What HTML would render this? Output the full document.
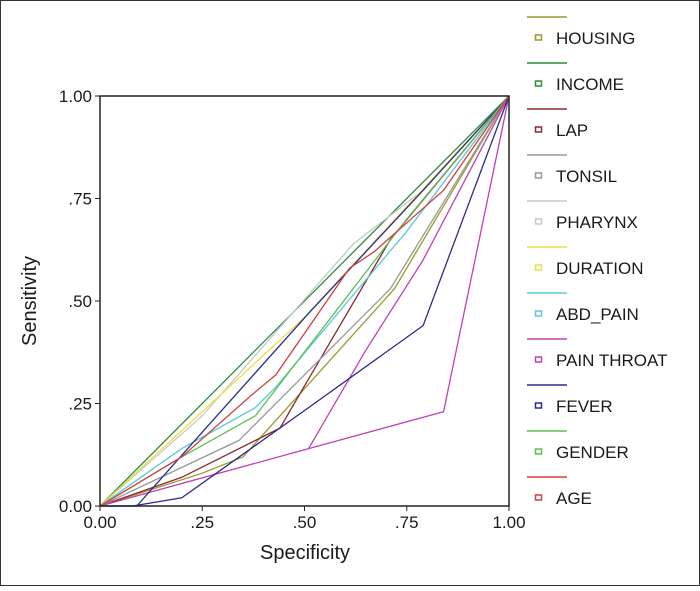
<!DOCTYPE html>
<html><head><meta charset="utf-8"><style>
html,body{margin:0;padding:0;background:#fff}
body{width:700px;height:586px;overflow:hidden;font-family:"Liberation Sans",Arial,sans-serif}
svg text{font-family:"Liberation Sans",Arial,sans-serif;fill:#1a1a1a}
</style></head><body>
<svg id="c" width="700" height="586">
<rect x="0.5" y="0.5" width="699" height="585" fill="#fff" stroke="#333"/>
<g id="plot"></g>
<g id="legend"></g>
</svg>
<script>
const names=["HOUSING","INCOME","LAP","TONSIL","PHARYNX","DURATION","ABD_PAIN","PAIN THROAT","FEVER","GENDER","AGE"];
const colors=["#9a9a2a","#2e8b3e","#8b2a2a","#999","#c8c8c8","#e8e040","#5cc8d8","#c040b0","#2a2a90","#5cc050","#d04040"];
const housingX=[0,0.25,0.35,0.72,1], housingY=[0,0.08,0.12,0.53,1];
const incomeX=[0,1], incomeY=[0,1];
const lapX=[0,0.2,0.44,0.51,0.71,1], lapY=[0,0.07,0.19,0.31,0.65,1];
const tonsilX=[0,0.34,0.71,1], tonsilY=[0,0.16,0.53,1];
const pharynxX=[0,0.25,0.62,0.79,1], pharynxY=[0,0.22,0.64,0.77,1];
const durationX=[0,0.5,0.75,1], durationY=[0,0.46,0.73,1];
const abdX=[0,0.2,0.38,0.43,0.75,1], abdY=[0,0.14,0.24,0.29,0.67,1];
const throatX=[0,0.51,0.84,1], throatY=[0,0.14,0.23,1];
const throat2X=[0.51,0.65,0.79,1], throat2Y=[0.14,0.38,0.6,1];
const feverX=[0,0.08,0.2,0.51,0.79,1], feverY=[0,0,0.02,0.24,0.44,1];
const fever2X=[0,0.09,0.25,0.51,0.79,1], fever2Y=[0,0,0.18,0.47,0.77,1];
const genderX=[0,0.2,0.38,0.75,1], genderY=[0,0.12,0.22,0.70,1];
const ageX=[0,0.2,0.37,0.43,0.61,0.67,0.84,1], ageY=[0,0.12,0.27,0.32,0.58,0.62,0.77,1];
const ticks=[0,0.25,0.5,0.75,1];
const tickLabels=["0.00",".25",".50",".75","1.00"];
const xTickLabels=["0.00",".25",".50",".75","1.00"];

const L=100,R=509,T=96,B=506;
const sx=v=>L+v*(R-L), sy=v=>B-v*(B-T);
const NS="http://www.w3.org/2000/svg";
function mk(t,a,p){const e=document.createElementNS(NS,t);for(const k in a)e.setAttribute(k,a[k]);p.appendChild(e);return e;}
const plot=document.getElementById('plot'), leg=document.getElementById('legend');
const series=[[housingX,housingY,0],[incomeX,incomeY,1],[lapX,lapY,2],[tonsilX,tonsilY,3],[pharynxX,pharynxY,4],[durationX,durationY,5],[abdX,abdY,6],[throatX,throatY,7],[throat2X,throat2Y,7],[feverX,feverY,8],[fever2X,fever2Y,8],[genderX,genderY,9],[ageX,ageY,10]];
series.forEach(s=>{
 const pts=s[0].map((x,i)=>sx(x)+','+sy(s[1][i])).join(' ');
 const p=mk('polyline',{points:pts,fill:'none',stroke:colors[s[2]],'stroke-width':1.3},plot);
 
 
});
const fr=mk('rect',{x:L,y:T,width:R-L,height:B-T,fill:'none',stroke:'#222','stroke-width':1.5},plot);


ticks.forEach((v,i)=>{
 const a=mk('line',{x1:L-5,x2:L,y1:sy(v),y2:sy(v),stroke:'#222'},plot);
 
 
 const t=mk('text',{x:L-8,y:sy(v)+6,'text-anchor':'end','font-size':17},plot);t.textContent=tickLabels[i];
 
 
 const b=mk('line',{x1:sx(v),x2:sx(v),y1:B,y2:B+5,stroke:'#222'},plot);
 
 
 const u=mk('text',{x:sx(v),y:B+22,'text-anchor':'middle','font-size':17},plot);u.textContent=xTickLabels[i];
 
 
});
const xt=mk('text',{x:305,y:559,'text-anchor':'middle','font-size':20},plot);xt.textContent='Specificity';


const yt=mk('text',{x:36,y:301,'text-anchor':'middle','font-size':20,transform:'rotate(-90 36 301)'},plot);yt.textContent='Sensitivity';


names.forEach((n,i)=>{
 const y0=17+i*46;
 const g=mk('g',{},leg);
 
 
 mk('line',{x1:527,x2:567,y1:y0,y2:y0,stroke:colors[i],'stroke-width':1.5},g);
 mk('rect',{x:535.5,y:y0+18,width:6,height:5,fill:'none',stroke:colors[i],'stroke-width':1.5},g);
 const t=mk('text',{x:556,y:y0+27,'font-size':17},g);t.textContent=n;
});
</script>
</body></html>
